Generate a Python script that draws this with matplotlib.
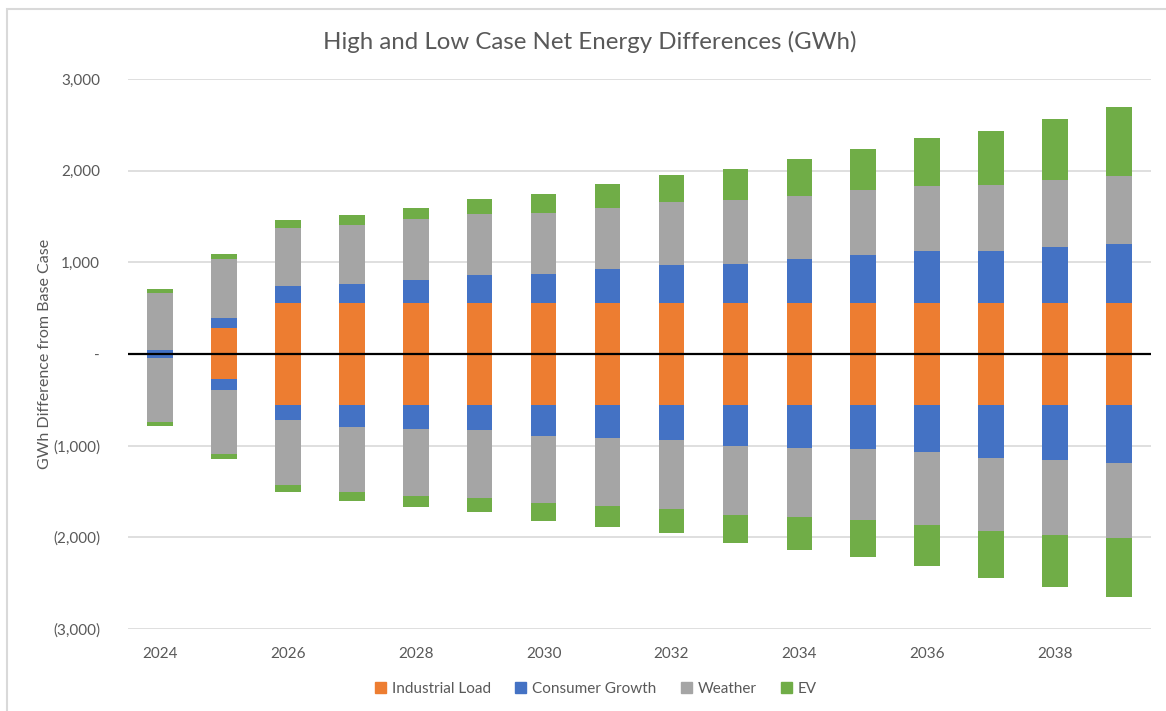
import matplotlib.pyplot as plt
import matplotlib.patches as mpatches
import matplotlib.ticker as mticker
import numpy as np

plt.rcParams['font.family'] = ['Lato', 'DejaVu Sans']

years = list(range(2024, 2040))
series = ['Industrial Load', 'Consumer Growth', 'Weather', 'EV']
colors = ['#ED7D31', '#4472C4', '#A5A5A5', '#70AD47']

# high case (above zero)
ind_hi = [0, 280, 557, 557, 557, 557, 557, 557, 557, 557, 557, 557, 557, 557, 557, 557]
cg_hi = [47, 117, 189, 208, 255, 306, 313, 375, 416, 427, 474, 525, 564, 564, 608, 645]
wx_hi = [620, 634, 634, 640, 656, 663, 667, 664, 684, 691, 691, 703, 711, 722, 729, 739]
ev_hi = [43, 58, 85, 110, 123, 168, 207, 258, 295, 347, 409, 455, 529, 594, 674, 759]

# low case (below zero)
ind_lo = [0, -275, -555, -555, -555, -555, -555, -555, -555, -555, -555, -555, -555, -555, -555, -555]
cg_lo = [-48, -123, -167, -236, -265, -276, -338, -356, -382, -444, -466, -483, -513, -575, -600, -630]
wx_lo = [-689, -695, -707, -714, -725, -736, -732, -744, -754, -757, -761, -773, -798, -801, -820, -819]
ev_lo = [-43, -55, -73, -95, -127, -156, -197, -229, -266, -303, -357, -408, -448, -514, -565, -645]

fig = plt.figure(figsize=(11.66, 7.11), dpi=100)
ax = fig.add_axes([128 / 1166, 1 - 629 / 711, (1151 - 128) / 1166, 550 / 711])

x = np.arange(len(years))
w = 0.4
for stack in [[ind_hi, cg_hi, wx_hi, ev_hi], [ind_lo, cg_lo, wx_lo, ev_lo]]:
    bottom = np.zeros(len(years))
    for vals, c, name in zip(stack, colors, series):
        vals = np.array(vals, dtype=float)
        ax.bar(x, vals, w, bottom=bottom, color=c, edgecolor='none', zorder=3)
        bottom = bottom + vals

ax.axhline(0, color='black', lw=1.6, zorder=4)

ax.set_xlim(-0.5, len(years) - 0.5)
ax.set_ylim(-3000, 3000)
ax.set_yticks(range(-3000, 3001, 1000))


def acct(v, pos):
    if v == 0:
        return '-'
    if v < 0:
        return '({:,.0f})'.format(-v)
    return '{:,.0f}'.format(v)


ax.yaxis.set_major_formatter(mticker.FuncFormatter(acct))
ax.set_xticks(x[::2])
ax.set_xticklabels([str(y) for y in years[::2]])
ax.grid(axis='y', color='#D9D9D9', lw=1.2, zorder=0)
ax.set_axisbelow(True)
for s in ax.spines.values():
    s.set_visible(False)
ax.tick_params(axis='both', length=0, labelsize=11, colors='#595959')
ax.tick_params(axis='y', pad=20)
ax.tick_params(axis='x', pad=13)

fig.text(45 / 1166, 1 - 354 / 711, 'GWh Difference from Base Case', rotation=90,
         ha='center', va='center', fontsize=11.5, color='#595959')
fig.text(590 / 1166, 1 - 42 / 711, 'High and Low Case Net Energy Differences (GWh)',
         ha='center', va='center', fontsize=17.3, color='#595959')

leg_handles = [mpatches.Patch(color=c, label=n) for c, n in zip(colors, series)]
fig.legend(handles=leg_handles, loc='center', bbox_to_anchor=(596 / 1166, 1 - 689 / 711),
           ncol=4, frameon=False, fontsize=11, handlelength=0.7, handleheight=0.7,
           handletextpad=0.4, columnspacing=1.6, labelcolor='#595959')

# chart area border
fig.patches.append(mpatches.Rectangle((7 / 1166, -0.01), 1.02, 1 - 9 / 711 + 0.01,
                                      transform=fig.transFigure, fill=False,
                                      edgecolor='#D9D9D9', lw=1.5))

fig.savefig('out.png', dpi=100)
